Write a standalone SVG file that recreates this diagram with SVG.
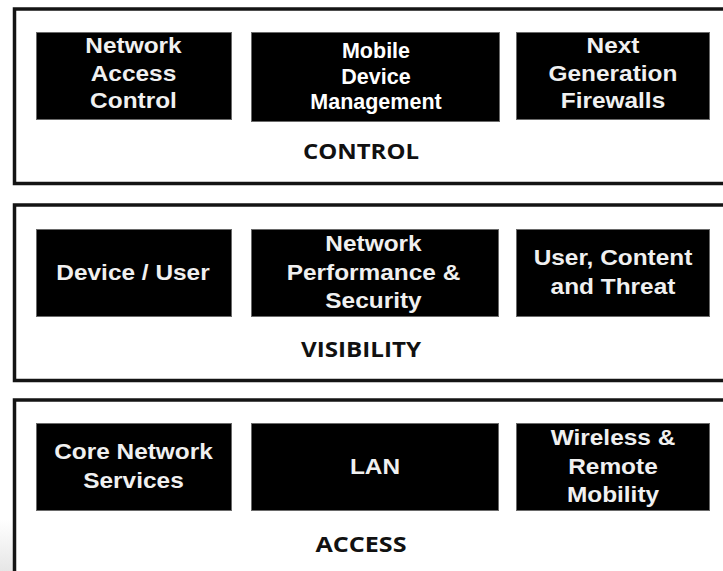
<svg xmlns="http://www.w3.org/2000/svg" width="723" height="571" viewBox="0 0 723 571">
  <style>
    .panel { fill: #ffffff; stroke: #141414; stroke-width: 3.5; }
    .box { fill: #000000; stroke: #6a6a6a; stroke-width: 1; }
    .bt { font-family: "Liberation Sans", Arial, sans-serif; font-weight: bold; font-size: 22px; fill: #f0f0f0; text-anchor: middle;
          transform-box: fill-box; transform-origin: center; transform: scaleX(1.11); }
    .bt2 { font-family: "Liberation Sans", Arial, sans-serif; font-weight: bold; font-size: 21.5px; fill: #ffffff; text-anchor: middle; }
    .layer { font-family: "Open Sans", "Liberation Sans", sans-serif; font-weight: bold; font-size: 21px; fill: #111111; text-anchor: middle; }
  </style>
  <defs>
    <linearGradient id="edgeShade" x1="0" y1="0" x2="0" y2="1">
      <stop offset="0" stop-color="#ffffff"/>
      <stop offset="1" stop-color="#e6e6e6"/>
    </linearGradient>
  </defs>

  <rect width="723" height="571" fill="#ffffff"/>
  <rect x="0" y="520" width="13" height="51" fill="url(#edgeShade)"/>

  <!-- CONTROL layer -->
  <g id="layer-control">
    <rect class="panel" x="14.5" y="9" width="740" height="174.5"/>
    <text class="layer" x="361" y="158.5" textLength="116" lengthAdjust="spacingAndGlyphs">CONTROL</text>
  </g>
  <g id="nac">
    <rect class="box" x="36.5" y="32.5" width="195" height="87"/>
    <text class="bt" x="133.5" y="53.5">Network</text>
    <text class="bt" x="133.5" y="81.5">Access</text>
    <text class="bt" x="133.5" y="108.5">Control</text>
  </g>
  <g id="mdm">
    <rect class="box" x="251.5" y="32.5" width="248" height="89"/>
    <text class="bt2" x="376" y="57.5">Mobile</text>
    <text class="bt2" x="376" y="83.5">Device</text>
    <text class="bt2" x="376" y="108.5">Management</text>
  </g>
  <g id="ngfw">
    <rect class="box" x="516.5" y="32.5" width="193" height="87"/>
    <text class="bt" x="613" y="53.5">Next</text>
    <text class="bt" x="613" y="81.5">Generation</text>
    <text class="bt" x="613" y="108.5">Firewalls</text>
  </g>

  <!-- VISIBILITY layer -->
  <g id="layer-visibility">
    <rect class="panel" x="14.5" y="205" width="740" height="175.5"/>
    <text class="layer" x="361" y="356.5" textLength="120" lengthAdjust="spacingAndGlyphs">VISIBILITY</text>
  </g>
  <g id="device-user">
    <rect class="box" x="36.5" y="229.5" width="195" height="87"/>
    <text class="bt" x="133" y="280">Device / User</text>
  </g>
  <g id="net-perf">
    <rect class="box" x="251.5" y="229.5" width="247" height="87"/>
    <text class="bt" x="373.5" y="251">Network</text>
    <text class="bt" x="373.5" y="280">Performance &amp;</text>
    <text class="bt" x="373.5" y="308">Security</text>
  </g>
  <g id="user-content">
    <rect class="box" x="516.5" y="229.5" width="193" height="87"/>
    <text class="bt" x="613" y="265">User, Content</text>
    <text class="bt" x="613" y="294">and Threat</text>
  </g>

  <!-- ACCESS layer -->
  <g id="layer-access">
    <rect class="panel" x="14.5" y="400" width="740" height="200"/>
    <text class="layer" x="361" y="551.5" textLength="91" lengthAdjust="spacingAndGlyphs">ACCESS</text>
  </g>
  <g id="core-services">
    <rect class="box" x="36.5" y="423.5" width="195" height="87"/>
    <text class="bt" x="133.5" y="459">Core Network</text>
    <text class="bt" x="133.5" y="488">Services</text>
  </g>
  <g id="lan">
    <rect class="box" x="251.5" y="423.5" width="247" height="87"/>
    <text class="bt" x="375" y="474.5">LAN</text>
  </g>
  <g id="wireless">
    <rect class="box" x="516.5" y="423.5" width="193" height="87"/>
    <text class="bt" x="613" y="445">Wireless &amp;</text>
    <text class="bt" x="613" y="474">Remote</text>
    <text class="bt" x="613" y="502">Mobility</text>
  </g>

  <!-- no connectors between the layers -->
  <g id="connectors"/>
</svg>
